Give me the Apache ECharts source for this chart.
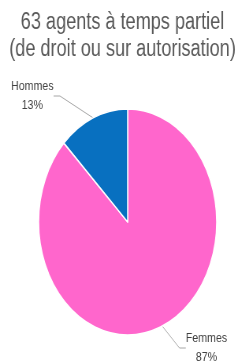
<!DOCTYPE html>
<html lang="fr">
<head>
    <meta charset="UTF-8">
    <title>Agents à temps partiel</title>
    <script src="https://cdn.jsdelivr.net/npm/echarts@6/dist/echarts.min.js"></script>
    <style>
        body {
            margin: 0;
            padding: 0;
            background: #fff;
            overflow: hidden;
        }
        /* the original chart was drawn wider and squeezed horizontally */
        #chart {
            width: 311px;
            height: 361px;
            transform: scaleX(0.788);
            transform-origin: 0 0;
        }
    </style>
</head>
<body>
    <div id="chart"></div>

<script>
    // Data
    const titleText = '63 agents à temps partiel\n(de droit ou sur autorisation)';
    const categories = ['Femmes', 'Hommes'];
    const counts = [55, 8];
    const colors = ['#ff66cc', '#0870c0'];

    // where each label sits (unscaled coordinates)
    const labelSpots = {
        Hommes: { x: 41, y: 96 },
        Femmes: { x: 262, y: 348 }
    };

    const chart = echarts.init(document.getElementById('chart'));

    const option = {
        animation: false,
        title: {
            text: titleText,
            left: 'center',
            top: 9,
            padding: 0,
            textStyle: {
                fontFamily: 'Liberation Sans, Arial, sans-serif',
                fontSize: 23,
                fontWeight: 'normal',
                color: '#595959',
                lineHeight: 27
            }
        },
        series: [
            {
                type: 'pie',
                center: [162, 222],
                radius: [0, 113],
                startAngle: 90,
                clockwise: true,
                percentPrecision: 0,
                data: categories.map((name, i) => ({
                    name: name,
                    value: counts[i],
                    itemStyle: { color: colors[i] }
                })),
                itemStyle: {
                    borderColor: '#fff',
                    borderWidth: 1.5
                },
                label: {
                    formatter: '{b}\n{d}%',
                    fontFamily: 'Liberation Sans, Arial, sans-serif',
                    fontSize: 13.5,
                    color: '#404040',
                    lineHeight: 19,
                    align: 'center'
                },
                labelLine: {
                    show: true,
                    length: 20,
                    length2: 8,
                    lineStyle: { color: '#a6a6a6', width: 1 }
                },
                labelLayout: function (params) {
                    const spot = labelSpots[categories[params.dataIndex]];
                    return {
                        x: spot.x,
                        y: spot.y,
                        align: 'center',
                        verticalAlign: 'middle'
                    };
                },
                emphasis: { disabled: true }
            }
        ]
    };

    chart.setOption(option);
</script>
</body>
</html>
